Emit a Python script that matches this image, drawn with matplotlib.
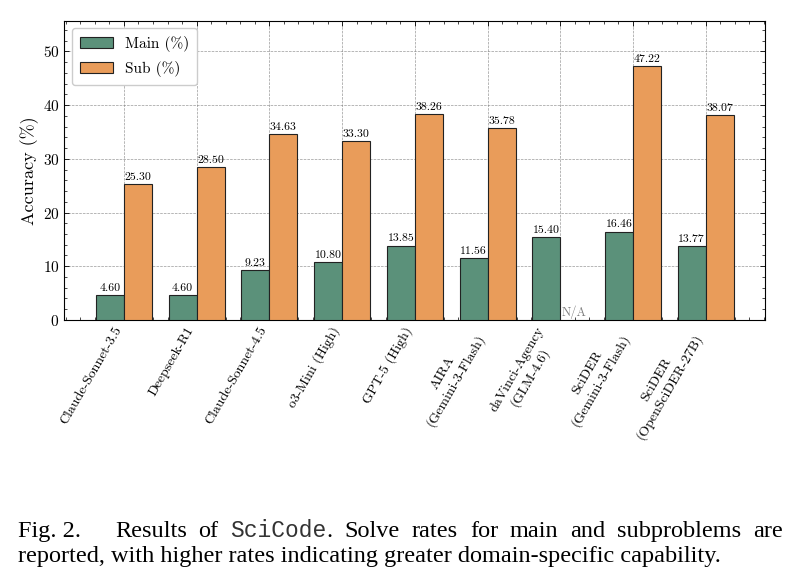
#!/usr/bin/env python3

import numpy as np
import matplotlib
matplotlib.use("Agg")
import matplotlib.pyplot as plt
from matplotlib.ticker import MultipleLocator

models = [
    "Claude-Sonnet-3.5",
    "Deepseek-R1",
    "Claude-Sonnet-4.5",
    "o3-Mini (High)",
    "GPT-5 (High)",
    "AIRA\n(Gemini-3-Flash)",
    "daVinci-Agency\n(GLM-4.6)",
    "SciDER\n(Gemini-3-Flash)",
    "SciDER\n(OpenSciDER-27B)",
]
main_rates = [4.60, 4.60, 9.23, 10.80, 13.85, 11.56, 15.40, 16.46, 13.77]
sub_rates = [25.30, 28.50, 34.63, 33.30, 38.26, 35.78, None, 47.22, 38.07]

GREEN = "#5b917a"
ORANGE = "#e99c5a"

plt.rcParams.update({
    "font.family": "serif",
    "font.serif": ["cmr10", "DejaVu Serif"],
    "mathtext.fontset": "cm",
    "axes.formatter.use_mathtext": True,
    "xtick.direction": "in",
    "ytick.direction": "in",
    "xtick.top": True,
    "ytick.right": True,
    "axes.linewidth": 0.8,
})

fig = plt.figure(figsize=(7.86, 5.87), dpi=100)
ax = fig.add_axes([0.0818, 0.455, 0.892, 0.5097])

x = np.arange(len(models))
w = 0.385
main_bars = ax.bar(x - w / 2, main_rates, w, color=GREEN, edgecolor="#222222",
                   linewidth=0.8, label="Main (%)", zorder=3)
sub_vals = [v if v is not None else 0 for v in sub_rates]
sub_bars = ax.bar(x + w / 2, sub_vals, w, color=ORANGE, edgecolor="#222222",
                  linewidth=0.8, label="Sub (%)", zorder=3)

for b, v in zip(main_bars, main_rates):
    ax.annotate(f"{v:.2f}", (b.get_x() + b.get_width() / 2, v), xytext=(0, 1.5),
                textcoords="offset points", ha="center", va="bottom", fontsize=8.5)
for b, v in zip(sub_bars, sub_rates):
    if v is None:
        ax.annotate("N/A", (b.get_x() + b.get_width() / 2, 0), xytext=(0, 0.5),
                    textcoords="offset points", ha="center", va="bottom",
                    fontsize=9, color="gray")
        b.set_visible(False)
    else:
        ax.annotate(f"{v:.2f}", (b.get_x() + b.get_width() / 2, v), xytext=(0, 1.5),
                    textcoords="offset points", ha="center", va="bottom", fontsize=8.5)

ax.set_xlim(-0.82, 8.82)
ax.set_ylim(0, 47.22 * 1.18)
ax.set_xticks(x)
ax.set_xticklabels(models, rotation=60, ha="right", multialignment="center", fontsize=10)
ax.xaxis.set_minor_locator(MultipleLocator(0.2))
ax.yaxis.set_major_locator(MultipleLocator(10))
ax.yaxis.set_minor_locator(MultipleLocator(2))
ax.tick_params(axis="y", labelsize=11)
ax.tick_params(which="major", length=3.5, width=0.6)
ax.tick_params(which="minor", length=2, width=0.5)
ax.set_ylabel("Accuracy (%)", fontsize=13, labelpad=3)
ax.grid(True, which="major", linestyle="--", linewidth=0.5, color="gray", alpha=0.8, zorder=0)
ax.set_axisbelow(True)

leg = ax.legend(loc="upper left", fontsize=11, frameon=True, fancybox=True,
                edgecolor="#cccccc", framealpha=1.0, handlelength=2.2,
                borderpad=0.5, labelspacing=0.6)

# caption below the chart, first line justified
fig.canvas.draw()
r = fig.canvas.get_renderer()
W, H = fig.bbox.width, fig.bbox.height
cap_size = 17.5


def word_width(s, family, size=cap_size):
    t = fig.text(0, 0, s, fontsize=size, family=family)
    wd = t.get_window_extent(r).width
    t.remove()
    return wd


serif = "Liberation Serif"
mono = "Liberation Mono"
mono_size = 16.5
line1 = [[("Fig. 2.", serif)], [("Results", serif)], [("of", serif)],
         [("SciCode", mono), (".", serif)], [("Solve", serif)], [("rates", serif)],
         [("for", serif)], [("main", serif)], [("and", serif)],
         [("subproblems", serif)], [("are", serif)]]


def fsize(f):
    return mono_size if f == mono else cap_size


x0, x1 = 18, 783
widths = [sum(word_width(s, f, fsize(f)) for s, f in word) for word in line1]
extra_first = 22
gap = (x1 - x0 - sum(widths) - extra_first) / (len(line1) - 1)
xp = x0
y1 = 1 - 537 / H
for i, (word, wd) in enumerate(zip(line1, widths)):
    xx = xp
    for s, f in word:
        fig.text(xx / W, y1, s, fontsize=fsize(f), family=f, va="baseline",
                 color="#333333" if f == mono else "black")
        xx += word_width(s, f, fsize(f))
    xp += wd + gap + (extra_first if i == 0 else 0)

fig.text(x0 / W, 1 - 562 / H,
         "reported, with higher rates indicating greater domain-specific capability.",
         fontsize=cap_size, family=serif, va="baseline")

fig.savefig("out.png", dpi=100)
